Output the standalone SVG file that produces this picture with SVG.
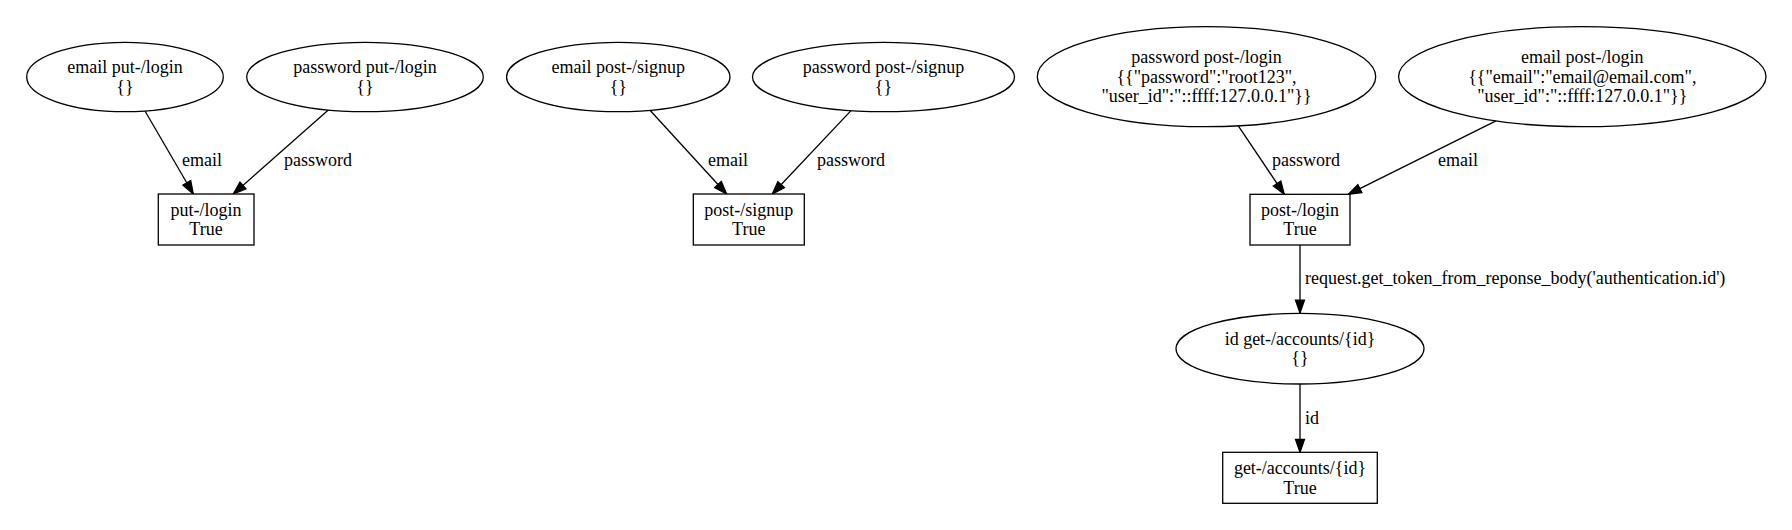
<svg xmlns="http://www.w3.org/2000/svg" width="1792" height="530" viewBox="0 0 1792 530">
<style>
  .n { fill: #ffffff; stroke: #000000; stroke-width: 1.3; }
  .e { fill: none; stroke: #000000; stroke-width: 1.3; marker-end: url(#arr); }
  text { font-family: "Liberation Serif", "Times New Roman", serif; font-size: 18px; fill: #000000; }
  .c { text-anchor: middle; }
  .s { text-anchor: start; }
</style>
<defs>
  <marker id="arr" markerUnits="userSpaceOnUse" markerWidth="16" markerHeight="12" viewBox="-1 -6 16 12" refX="12.9" refY="0" orient="auto">
    <path d="M0,-4.5 L12.9,0 L0,4.5 Z" fill="#000000" stroke="#000000" stroke-width="1.3"/>
  </marker>
</defs>
<rect x="0" y="0" width="1792" height="530" fill="#ffffff"/>

<g id="connectors">
  <line class="e" x1="145" y1="111" x2="193.3" y2="194"/>
  <line class="e" x1="328.3" y1="110" x2="233.3" y2="194"/>
  <line class="e" x1="650" y1="110.3" x2="726.7" y2="194"/>
  <line class="e" x1="851" y1="110.6" x2="772.3" y2="194"/>
  <line class="e" x1="1238.3" y1="125.8" x2="1284.3" y2="194.3"/>
  <line class="e" x1="1496" y1="120.8" x2="1348.3" y2="194.3"/>
  <line class="e" x1="1300" y1="245" x2="1300" y2="313"/>
  <line class="e" x1="1300" y1="384" x2="1300" y2="452.3"/>
  <text class="c" x="202" y="166">email</text>
  <text class="c" x="318" y="166">password</text>
  <text class="c" x="728" y="166">email</text>
  <text class="c" x="851" y="166">password</text>
  <text class="c" x="1306" y="166">password</text>
  <text class="c" x="1458" y="166">email</text>
  <text class="s" x="1305" y="283.5">request.get_token_from_reponse_body('authentication.id')</text>
  <text class="s" x="1305" y="423.5">id</text>
</g>

<g id="email_put_login">
  <ellipse class="n" cx="125" cy="77" rx="98.3" ry="34.7"/>
  <text class="c" x="125" y="73">email put-/login</text>
  <text class="c" x="125" y="92.6">{}</text>
</g>
<g id="password_put_login">
  <ellipse class="n" cx="365" cy="77" rx="118.3" ry="34.7"/>
  <text class="c" x="365" y="73">password put-/login</text>
  <text class="c" x="365" y="92.6">{}</text>
</g>
<g id="put_login">
  <rect class="n" x="158.3" y="194" width="95.7" height="51"/>
  <text class="c" x="206" y="215.9">put-/login</text>
  <text class="c" x="206" y="235.2">True</text>
</g>

<g id="email_post_signup">
  <ellipse class="n" cx="618.3" cy="77" rx="111.7" ry="34.7"/>
  <text class="c" x="618.3" y="73">email post-/signup</text>
  <text class="c" x="618.3" y="92.6">{}</text>
</g>
<g id="password_post_signup">
  <ellipse class="n" cx="883.5" cy="77" rx="131" ry="34.7"/>
  <text class="c" x="883.5" y="73">password post-/signup</text>
  <text class="c" x="883.5" y="92.6">{}</text>
</g>
<g id="post_signup">
  <rect class="n" x="693.3" y="194" width="111" height="51"/>
  <text class="c" x="748.8" y="215.9">post-/signup</text>
  <text class="c" x="748.8" y="235.2">True</text>
</g>

<g id="password_post_login">
  <ellipse class="n" cx="1206.5" cy="76.7" rx="169.2" ry="50"/>
  <text class="c" x="1206.5" y="63.4">password post-/login</text>
  <text class="c" x="1206.5" y="82.7">{{"password":"root123",</text>
  <text class="c" x="1206.5" y="102">"user_id":"::ffff:127.0.0.1"}}</text>
</g>
<g id="email_post_login">
  <ellipse class="n" cx="1582.3" cy="76.7" rx="183.7" ry="50"/>
  <text class="c" x="1582.3" y="63.4">email post-/login</text>
  <text class="c" x="1582.3" y="82.7">{{"email":"email@email.com",</text>
  <text class="c" x="1582.3" y="102">"user_id":"::ffff:127.0.0.1"}}</text>
</g>
<g id="post_login">
  <rect class="n" x="1250" y="194.3" width="100" height="50.7"/>
  <text class="c" x="1300" y="215.9">post-/login</text>
  <text class="c" x="1300" y="235.2">True</text>
</g>

<g id="id_get_accounts">
  <ellipse class="n" cx="1300" cy="348.7" rx="124" ry="35.3"/>
  <text class="c" x="1300" y="345">id get-/accounts/{id}</text>
  <text class="c" x="1300" y="364.3">{}</text>
</g>
<g id="get_accounts">
  <rect class="n" x="1222.7" y="452.3" width="154.6" height="51"/>
  <text class="c" x="1300" y="474.2">get-/accounts/{id}</text>
  <text class="c" x="1300" y="493.5">True</text>
</g>
</svg>
